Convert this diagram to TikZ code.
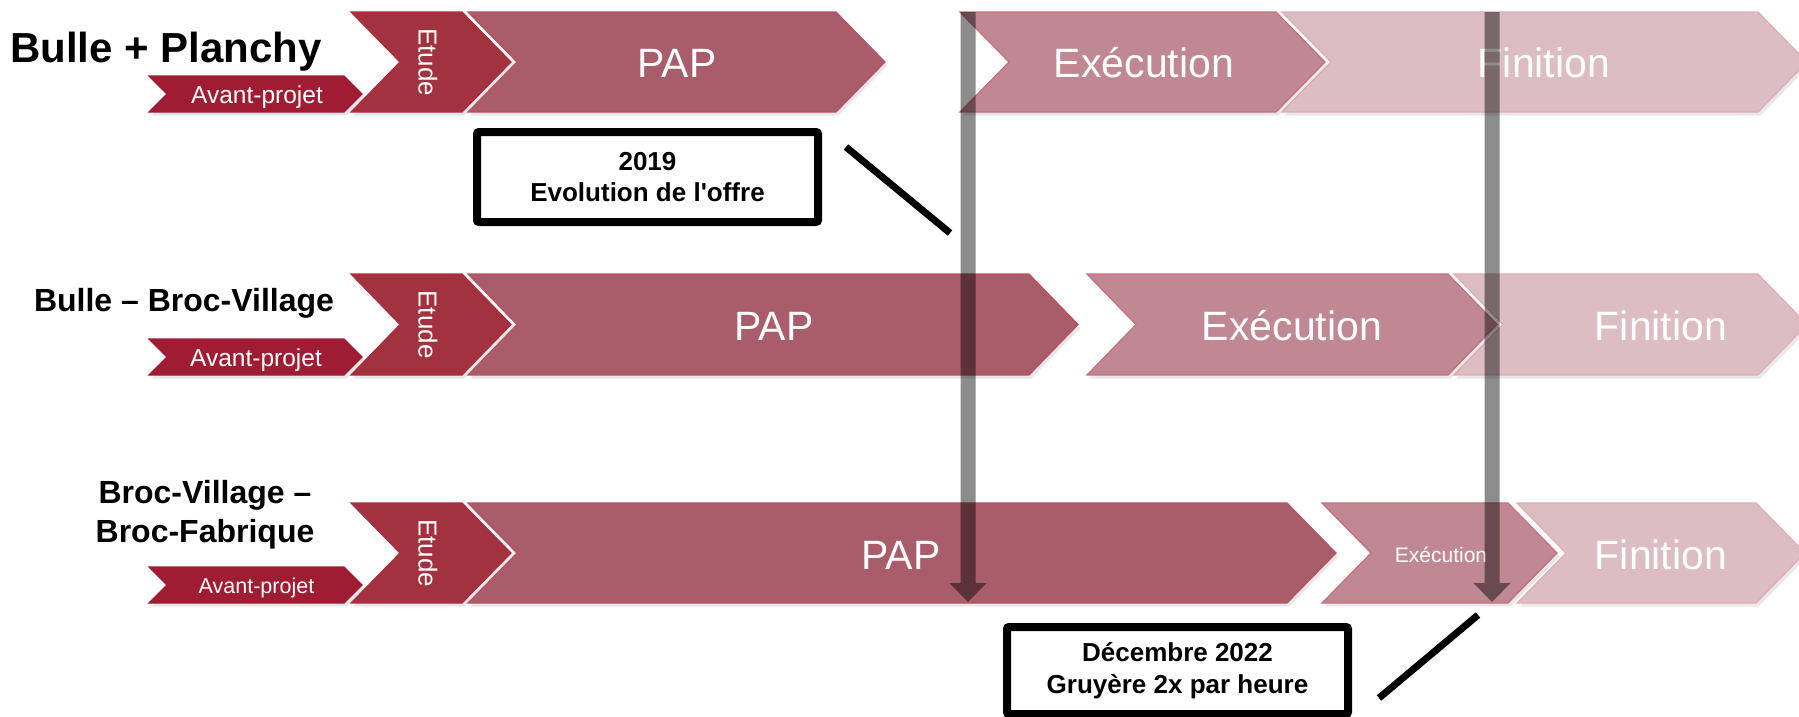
\documentclass[tikz,border=0pt]{standalone}
\usepackage{fontspec}
\setmainfont{Liberation Sans}[Ligatures=TeXOff]
\usetikzlibrary{shadows,calc}
\definecolor{cAvant}{HTML}{A01C33}
\definecolor{cEtude}{HTML}{A3323F}
\definecolor{cEtudeB}{HTML}{B02A40}
\definecolor{cPAP}{HTML}{A95C69}
\definecolor{cPAPB}{HTML}{BC4F62}
\definecolor{cExec}{HTML}{BF8892}
\definecolor{cExecB}{HTML}{C76E7E}
\definecolor{cFin}{HTML}{DCBDC3}
\definecolor{cFinB}{HTML}{E2ABB6}
\newcommand{\mychev}[6]{\path[#1] (#2,#4) -- (#3,#4) -- ({#3+#6},{(#4+#5)/2}) -- (#3,#5) -- (#2,#5) -- ({#2+#6},{(#4+#5)/2}) -- cycle;}
\begin{document}
\begin{tikzpicture}[x=1pt,y=-1pt,
  chev/.style={drop shadow={opacity=0.18,shadow xshift=2.5pt,shadow yshift=-3.5pt}, line width=1.2pt, line join=miter},
  avant/.style={chev, fill=cAvant, draw=cAvant},
  etudec/.style={chev, fill=cEtude, draw=cEtudeB},
  papc/.style={chev, fill=cPAP, draw=cPAPB},
  execc/.style={chev, fill=cExec, draw=cExecB},
  finc/.style={chev, fill=cFin, draw=cFinB},
  lab/.style={text=white, inner sep=0pt, anchor=base},
  biglab/.style={lab, font=\fontsize{41}{49}\selectfont},
  smalllab/.style={lab, font=\fontsize{21}{25}\selectfont},
  avlab/.style={lab, font=\fontsize{24.5}{29}\selectfont},
  etlab/.style={text=white, inner sep=0pt, anchor=center, rotate=-90, font=\fontsize{26}{31}\selectfont},
  title/.style={inner sep=0pt, anchor=base, font=\bfseries\fontsize{42}{50}\selectfont},
  subtitle/.style={inner sep=0pt, anchor=base, font=\bfseries\fontsize{32}{39}\selectfont},
  callout/.style={draw=black, line width=8pt, rounded corners=2pt, fill=white, minimum width=341pt, minimum height=90pt, inner sep=0pt, align=center, font=\bfseries\fontsize{26}{31.5}\selectfont},
  bar/.style={fill=black, fill opacity=0.45},
  callline/.style={draw=black, line width=7pt}
]
\useasboundingbox (0,0) rectangle (1799,716);
\clip (0,0) rectangle (1799,716);

% ---------- Row 1 : Bulle + Planchy ----------
\mychev{avant}{149}{344}{76}{112}{18}
\mychev{etudec}{351}{462}{12}{112}{49}
\mychev{papc}{468}{836}{12}{112}{49}
\mychev{finc}{1282}{1758}{12}{112}{49}
\mychev{execc}{960}{1276}{12}{112}{49}
\node[title] (t1) at (166,62) {Bulle + Planchy};
\node[avlab] (av1) at (257,103) {Avant-projet};
\node[etlab] (et1) at (428,62) {Etude};
\node[biglab] (pap1) at (677,77) {PAP};
\node[biglab] (ex1) at (1144,77) {Exécution};
\node[biglab] (fi1) at (1544,77) {Finition};

% ---------- Row 2 : Bulle - Broc-Village ----------
\mychev{avant}{149}{344}{339}{375}{18}
\mychev{etudec}{351}{462}{274}{375}{49}
\mychev{papc}{468}{1029}{274}{375}{49}
\mychev{finc}{1454}{1758}{274}{375}{49}
\mychev{execc}{1087}{1448}{274}{375}{49}
\node[subtitle] (t2) at (184,311) {Bulle – Broc-Village};
\node[avlab] (av2) at (256,366) {Avant-projet};
\node[etlab] (et2) at (428,324.5) {Etude};
\node[biglab] (pap2) at (774,340) {PAP};
\node[biglab] (ex2) at (1292,340) {Exécution};
\node[biglab] (fi2) at (1661,340) {Finition};

% ---------- Row 3 : Broc-Village - Broc-Fabrique ----------
\mychev{avant}{149}{344}{567}{603}{18}
\mychev{etudec}{351}{462}{503}{603}{49}
\mychev{papc}{468}{1287}{503}{603}{49}
\mychev{finc}{1517}{1756}{503}{603}{49}
\mychev{execc}{1322}{1508}{503}{603}{49}
\node[inner sep=0pt, align=center, font=\bfseries\fontsize{32}{39}\selectfont] (t3) at (205,515) {Broc-Village –\\Broc-Fabrique};
\node[lab, font=\fontsize{21.5}{26}\selectfont] (av3) at (256.5,593) {Avant-projet};
\node[etlab] (et3) at (428,553) {Etude};
\node[biglab] (pap3) at (901,569) {PAP};
\node[smalllab] (ex3) at (1441,562) {Exécution};
\node[biglab] (fi3) at (1661,569) {Finition};

% ---------- milestone bars ----------
\coordinate (m1top) at (968,12);
\coordinate (m1bot) at (968,602);
\coordinate (m2top) at (1492,12);
\coordinate (m2bot) at (1492,602);
\fill[bar] ($(m1top)+(-7.5,0)$) -- ($(m1bot)+(-7.5,-19)$) -- ($(m1bot)+(-18.5,-19)$) -- (m1bot) -- ($(m1bot)+(18.5,-19)$) -- ($(m1bot)+(7.5,-19)$) -- ($(m1top)+(7.5,0)$) -- cycle;
\fill[bar] ($(m2top)+(-7.5,0)$) -- ($(m2bot)+(-7.5,-19)$) -- ($(m2bot)+(-18.5,-19)$) -- (m2bot) -- ($(m2bot)+(18.5,-19)$) -- ($(m2bot)+(7.5,-19)$) -- ($(m2top)+(7.5,0)$) -- cycle;

% ---------- callouts ----------
\node[callout] (c1) at (647.5,177) {2019\\Evolution de l'offre};
\node[callout, minimum height=87pt] (c2) at (1177.5,670.5) {Décembre 2022\\Gruyère 2x par heure};
\coordinate (l1a) at (846,147);
\coordinate (l1b) at (950,233);
\draw[callline] (l1a) -- (l1b);
\coordinate (l2a) at (1478,615);
\coordinate (l2b) at (1379,698);
\draw[callline] (l2a) -- (l2b);
\end{tikzpicture}
\end{document}
